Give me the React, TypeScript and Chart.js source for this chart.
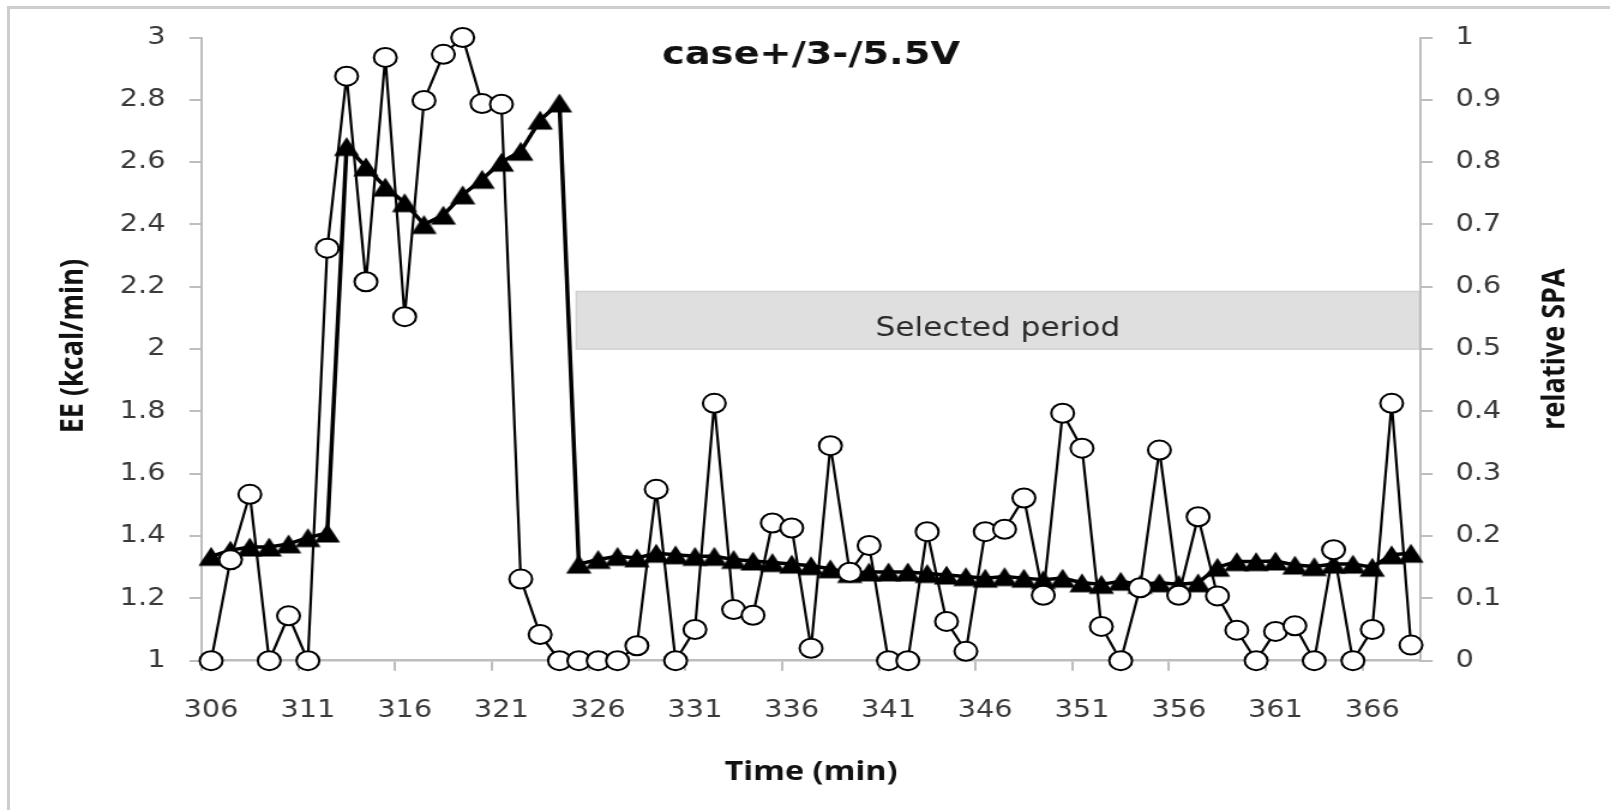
import React, { useEffect, useRef } from 'react';
import { Chart, registerables } from 'chart.js';

Chart.register(...registerables);

// ---------------- data ----------------
const timeLabels = [
  '306', '307', '308', '309', '310', '311', '312', '313', '314', '315',
  '316', '317', '318', '319', '320', '321', '322', '323', '324', '325',
  '326', '327', '328', '329', '330', '331', '332', '333', '334', '335',
  '336', '337', '338', '339', '340', '341', '342', '343', '344', '345',
  '346', '347', '348', '349', '350', '351', '352', '353', '354', '355',
  '356', '357', '358', '359', '360', '361', '362', '363', '364', '365',
  '366', '367', '368',
];

// relative SPA (right axis, open circles)
const spaValues = [
  0, 0.162, 0.267, 0, 0.072, 0, 0.662, 0.938, 0.608, 0.968,
  0.552, 0.899, 0.973, 1.0, 0.894, 0.893, 0.131, 0.042, 0, 0,
  0, 0, 0.024, 0.275, 0, 0.05, 0.413, 0.082, 0.073, 0.221,
  0.213, 0.02, 0.345, 0.142, 0.185, 0, 0, 0.207, 0.063, 0.015,
  0.207, 0.211, 0.261, 0.105, 0.397, 0.341, 0.055, 0, 0.117, 0.338,
  0.105, 0.231, 0.104, 0.049, 0, 0.047, 0.056, 0, 0.178, 0,
  0.05, 0.413, 0.025,
];

// EE in kcal/min (left axis, filled triangles)
const eeValues = [
  1.335, 1.355, 1.365, 1.365, 1.375, 1.395, 1.41, 2.65, 2.585, 2.52,
  2.47, 2.4, 2.43, 2.495, 2.545, 2.6, 2.635, 2.735, 2.79, 1.31,
  1.325, 1.335, 1.33, 1.345, 1.34, 1.335, 1.335, 1.325, 1.32, 1.315,
  1.31, 1.305, 1.295, 1.28, 1.285, 1.285, 1.285, 1.28, 1.275, 1.27,
  1.265, 1.27, 1.265, 1.26, 1.265, 1.25, 1.245, 1.255, 1.245, 1.25,
  1.245, 1.25, 1.3, 1.318, 1.318, 1.32, 1.307, 1.302, 1.31, 1.31,
  1.3, 1.34, 1.345,
];

const eeRange = { min: 1, max: 3, step: 0.2 };
const spaRange = { min: 0, max: 1, step: 0.1 };
const labelEvery = 5;

// "Selected period" band (category index where it starts, EE-axis values)
const periodStartIndex = 18.87;
const periodBottom = 2.0;
const periodTop = 2.185;

const titleText = 'case+/3-/5.5V';
const xTitle = 'Time (min)';
const yTitle = 'EE (kcal/min)';
const y1Title = 'relative SPA';
const periodText = 'Selected period';

// ---------------- layout (page pixels) ----------------
const PAGE_W = 1610;
const PAGE_H = 810;
const SX = 1.2; // the reference is horizontally stretched
const CW = Math.round(PAGE_W / SX);
const sx = (v: number) => v / SX;

const PLOT_LEFT = sx(201.5);
const PLOT_RIGHT = sx(1421);
const PLOT_TOP = 37.5;
const PLOT_BOTTOM = 660.7;

const GRAY = '#bdbdbd';
const TICK_COLOR = '#3a3a3a';
const TEXT_COLOR = '#111111';

function makeTriangle(): HTMLCanvasElement {
  const c = document.createElement('canvas');
  c.width = 24;
  c.height = 22;
  const g = c.getContext('2d')!;
  g.fillStyle = '#000';
  g.beginPath();
  g.moveTo(12, 1.6);
  g.lineTo(22.6, 20.4);
  g.lineTo(1.4, 20.4);
  g.closePath();
  g.fill();
  return c;
}

const fmt = (v: number | string) => String(Math.round(Number(v) * 10) / 10);

const overlayPlugin = {
  id: 'overlay',
  beforeDraw(chart: any) {
    const { ctx, chartArea, scales } = chart;
    const x0 = scales.x.getPixelForValue(periodStartIndex);
    const x1 = chartArea.right - 1;
    const yT = scales.y.getPixelForValue(periodTop);
    const yB = scales.y.getPixelForValue(periodBottom);
    ctx.save();
    ctx.fillStyle = '#dfdfdf';
    ctx.fillRect(x0, yT, x1 - x0, yB - yT);
    ctx.strokeStyle = '#d2d2d2';
    ctx.lineWidth = 1.5;
    ctx.strokeRect(x0, yT, x1 - x0, yB - yT);
    ctx.fillStyle = '#2a2a2a';
    ctx.font = '26px "DejaVu Sans"';
    ctx.textAlign = 'center';
    ctx.textBaseline = 'alphabetic';
    ctx.fillText(periodText, (x0 + x1) / 2, 336);
    ctx.restore();
  },
  afterDraw(chart: any) {
    const { ctx, chartArea } = chart;
    const cx = (chartArea.left + chartArea.right) / 2;
    const cy = (chartArea.top + chartArea.bottom) / 2;
    ctx.save();
    ctx.fillStyle = TEXT_COLOR;
    ctx.textAlign = 'center';
    ctx.textBaseline = 'alphabetic';
    ctx.font = 'bold 32px "DejaVu Sans"';
    ctx.fillText(titleText, cx, 64);
    ctx.font = 'bold 27px "Open Sans"';
    ctx.fillText(xTitle, cx, 780);

    ctx.textBaseline = 'middle';
    ctx.save();
    ctx.translate(sx(73), cy - 3);
    ctx.rotate(-Math.PI / 2);
    ctx.fillText(yTitle, 0, 0);
    ctx.restore();

    ctx.save();
    ctx.translate(sx(1556), cy);
    ctx.rotate(-Math.PI / 2);
    ctx.fillText(y1Title, 0, 0);
    ctx.restore();
    ctx.restore();
  },
};

export default function App() {
  const ref = useRef<HTMLCanvasElement>(null);

  useEffect(() => {
    const canvas = ref.current;
    if (!canvas) return;
    const tri = makeTriangle();
    const tickFont = { family: 'DejaVu Sans', size: 24 };

    const chart = new Chart(canvas, {
      type: 'line',
      data: {
        labels: timeLabels,
        datasets: [
          {
            label: y1Title,
            data: spaValues,
            yAxisID: 'y1',
            borderColor: '#000',
            borderWidth: 2.2,
            pointStyle: 'circle',
            pointRadius: 9.5,
            pointBorderWidth: 2,
            pointBackgroundColor: '#fff',
            pointBorderColor: '#000',
            tension: 0,
            clip: false,
          } as any,
          {
            label: yTitle,
            data: eeValues,
            yAxisID: 'y',
            borderColor: '#000',
            borderWidth: 3.5,
            pointStyle: tri,
            pointRadius: 11,
            backgroundColor: '#000',
            tension: 0,
            clip: false,
          } as any,
        ],
      },
      options: {
        responsive: false,
        animation: false,
        devicePixelRatio: 1,
        events: [],
        layout: { padding: { top: PLOT_TOP, left: 0, right: 0, bottom: 0 } },
        plugins: {
          legend: { display: false },
          tooltip: { enabled: false },
          title: { display: false },
        },
        scales: {
          x: {
            type: 'category',
            offset: true,
            grid: {
              offset: true,
              drawOnChartArea: false,
              drawTicks: true,
              tickLength: 10,
              lineWidth: 2,
              color: (c: any) => (typeof c.index === 'number' && c.index % labelEvery === 0 ? GRAY : 'rgba(0,0,0,0)'),
            },
            border: { display: true, color: GRAY, width: 2.5 },
            ticks: {
              autoSkip: false,
              maxRotation: 0,
              minRotation: 0,
              padding: 26,
              font: tickFont,
              color: TICK_COLOR,
              callback: (_v: any, i: number) => (i % labelEvery === 0 ? timeLabels[i] : ''),
            },
            afterFit: (s: any) => {
              s.height = PAGE_H - PLOT_BOTTOM;
            },
          },
          y: {
            position: 'left',
            min: eeRange.min,
            max: eeRange.max,
            ticks: {
              stepSize: eeRange.step,
              padding: 20,
              font: tickFont,
              color: TICK_COLOR,
              callback: (v: any) => fmt(v),
            },
            grid: { drawOnChartArea: false, tickLength: 10, lineWidth: 2, color: GRAY },
            border: { display: true, color: GRAY, width: 2 },
            afterFit: (s: any) => {
              s.width = PLOT_LEFT;
            },
          },
          y1: {
            position: 'right',
            min: spaRange.min,
            max: spaRange.max,
            ticks: {
              stepSize: spaRange.step,
              padding: 19,
              font: tickFont,
              color: TICK_COLOR,
              callback: (v: any) => fmt(v),
            },
            grid: { drawOnChartArea: false, tickLength: 10, lineWidth: 2, color: GRAY },
            border: { display: true, color: GRAY, width: 2 },
            afterFit: (s: any) => {
              s.width = CW - PLOT_RIGHT;
            },
          },
        },
      } as any,
      plugins: [overlayPlugin],
    });

    return () => chart.destroy();
  }, []);

  return (
    <div
      style={{
        position: 'fixed',
        left: 0,
        top: 0,
        width: PAGE_W,
        height: PAGE_H,
        overflow: 'hidden',
        background: '#fff',
      }}
    >
      <div
        style={{
          position: 'absolute',
          left: 7,
          top: 5.5,
          width: 1700,
          height: 900,
          border: '3px solid #cdcdcd',
          boxSizing: 'border-box',
        }}
      />
      <canvas
        ref={ref}
        width={CW}
        height={PAGE_H}
        style={{ position: 'absolute', left: 0, top: 0, width: PAGE_W + 'px', height: PAGE_H + 'px' }}
      />
    </div>
  );
}
